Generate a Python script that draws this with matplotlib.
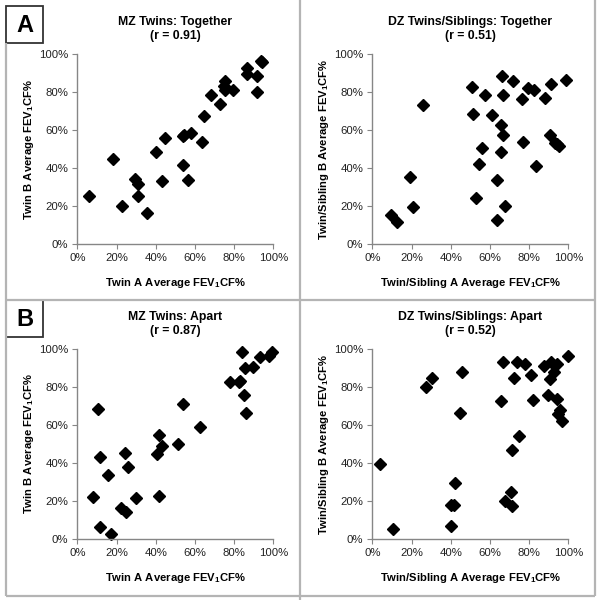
import matplotlib
matplotlib.use("Agg")
import matplotlib.pyplot as plt
from matplotlib.patches import Rectangle

plt.rcParams['font.family'] = ['Liberation Sans', 'DejaVu Sans']
plt.rcParams['mathtext.fontset'] = 'custom'
plt.rcParams['mathtext.rm'] = 'Liberation Sans'
plt.rcParams['mathtext.bf'] = 'Liberation Sans:bold'

# MZ twins raised together (Twin A %, Twin B %)
mz_tog_a = [6.0, 18.4, 22.6, 29.3, 31.1, 31.1, 35.7, 40.1, 43.4, 44.7, 53.7, 54.0, 54.6,
            56.6, 57.8, 63.4, 64.8, 68.4, 72.6, 75.2, 74.7, 75.5, 79.4, 86.6, 86.6,
            91.7, 91.8, 93.9, 94.2]
mz_tog_b = [25.6, 45.1, 20.4, 34.4, 31.8, 25.4, 16.7, 48.6, 33.5, 56.1, 41.6, 57.0, 57.4,
            33.7, 58.6, 54.0, 67.7, 78.6, 73.7, 86.1, 83.5, 81.2, 81.1, 92.8, 89.5,
            88.8, 80.0, 96.3, 96.0]

# DZ twins / siblings raised together
dz_tog_a = [9.5, 12.6, 19.4, 20.6, 26.0, 51.0, 51.5, 53.1, 54.4, 55.9, 57.7, 60.9, 63.4,
            63.8, 65.5, 65.8, 66.5, 66.3, 66.5, 67.5, 71.6, 76.5, 77.0, 79.6, 82.3,
            83.5, 88.3, 91.0, 90.5, 93.2, 94.4, 95.2, 99.0]
dz_tog_b = [15.6, 11.8, 35.4, 19.6, 73.5, 82.8, 68.8, 24.4, 42.1, 50.5, 78.8, 67.9, 12.8,
            33.7, 48.4, 62.6, 57.4, 88.6, 78.8, 20.0, 86.1, 76.7, 54.0, 82.1, 81.1,
            41.1, 77.2, 84.2, 57.4, 53.5, 52.8, 51.9, 86.7]

# MZ twins living apart
mz_apart_a = [7.8, 10.7, 11.4, 11.4, 15.6, 17.2, 22.1, 24.5, 24.8, 25.9, 29.9, 40.5, 41.5,
              41.8, 43.0, 51.4, 54.1, 62.8, 78.1, 82.3, 83.2, 83.8, 84.9, 85.7, 86.2,
              89.8, 93.0, 98.0, 99.1]
mz_apart_b = [22.3, 68.6, 43.2, 6.5, 33.9, 2.8, 16.3, 45.1, 14.0, 38.1, 21.4, 44.9, 54.6,
              22.8, 49.1, 50.0, 71.1, 58.9, 82.5, 82.6, 83.3, 98.2, 75.8, 90.0, 66.1,
              90.5, 95.6, 96.5, 98.6]

# DZ twins / siblings living apart
dz_apart_a = [4.1, 10.5, 27.6, 30.3, 40.3, 41.5, 40.3, 42.3, 44.6, 45.9, 65.8, 66.7, 67.5,
              71.3, 70.9, 71.1, 72.1, 73.8, 74.8, 77.9, 80.8, 82.0, 87.8, 89.8, 90.5,
              91.0, 92.7, 94.2, 94.2, 94.9, 95.6, 96.6, 99.7]
dz_apart_b = [39.3, 5.4, 79.8, 84.6, 18.1, 17.7, 6.8, 29.6, 66.3, 88.1, 72.8, 93.2, 20.0,
              46.8, 24.9, 17.2, 84.9, 93.3, 54.0, 91.9, 86.5, 73.2, 91.2, 75.6, 84.4,
              93.2, 88.1, 92.1, 73.7, 65.6, 68.1, 62.1, 96.5]

ticks = [0, 20, 40, 60, 80, 100]
tick_labels = ['0%', '20%', '40%', '60%', '80%', '100%']

W, H = 599, 600
fig = plt.figure(figsize=(W / 100, H / 100), dpi=100)

# background layer in pixel units for the panel frames
bg = fig.add_axes([0, 0, 1, 1])
bg.set_xlim(0, W)
bg.set_ylim(H, 0)
bg.axis('off')
frame = '#b4b4b4'
for x0, y0, x1, y1 in [(6, 43, 6, 596), (300, 0, 300, 600), (595, 0, 595, 596),
                       (6, 300, 595, 300), (6, 596, 595, 596)]:
    bg.plot([x0, x1], [y0, y1], color=frame, lw=1.6, solid_capstyle='butt')
for lab, top in [('A', 6), ('B', 300)]:
    bg.add_patch(Rectangle((6, top), 37, 37, facecolor='white', edgecolor='#333333', lw=1.3))
    bg.text(24.5, top + 19, lab, fontsize=17, fontweight='bold', ha='center', va='center')

sub = r'FEV$_{\mathbf{1}}$CF%'
panels = [
    (mz_tog_a, mz_tog_b, 'MZ Twins: Together\n(r = 0.91)', 'Twin A Average ' + sub,
     'Twin B Average ' + sub, 77.3, 54.3),
    (dz_tog_a, dz_tog_b, 'DZ Twins/Siblings: Together\n(r = 0.51)',
     'Twin/Sibling A Average ' + sub, 'Twin/Sibling B Average ' + sub, 372.3, 54.3),
    (mz_apart_a, mz_apart_b, 'MZ Twins: Apart\n(r = 0.87)', 'Twin A Average ' + sub,
     'Twin B Average ' + sub, 77.3, 349),
    (dz_apart_a, dz_apart_b, 'DZ Twins/Siblings: Apart\n(r = 0.52)',
     'Twin/Sibling A Average ' + sub, 'Twin/Sibling B Average ' + sub, 372.3, 349),
]

axis_gray = '#868686'
for xa, yb, title, xl, yl, left, top in panels:
    ax = fig.add_axes([left / W, 1 - (top + 190) / H, 196 / W, 190 / H])
    ax.plot(xa, yb, linestyle='none', marker='D', markersize=5.8, color='black', clip_on=False)
    ax.set_xlim(0, 100)
    ax.set_ylim(0, 100)
    ax.set_xticks(ticks)
    ax.set_xticklabels(tick_labels)
    ax.set_yticks(ticks)
    ax.set_yticklabels(tick_labels)
    for s in ['top', 'right']:
        ax.spines[s].set_visible(False)
    for s in ['left', 'bottom']:
        ax.spines[s].set_color(axis_gray)
        ax.spines[s].set_linewidth(1.0)
    ax.tick_params(direction='out', length=3.5, width=0.8, color=axis_gray,
                   labelsize=8.2, labelcolor='#222222', pad=3)
    ax.set_title(title, fontsize=8.8, fontweight='bold', linespacing=1.2, pad=11)
    ax.set_xlabel(xl, fontsize=8.1, fontweight='bold', labelpad=9)
    ax.set_ylabel(yl, fontsize=8.1, fontweight='bold', labelpad=2)
    ax.patch.set_alpha(0)

fig.savefig('out.png', dpi=100)
